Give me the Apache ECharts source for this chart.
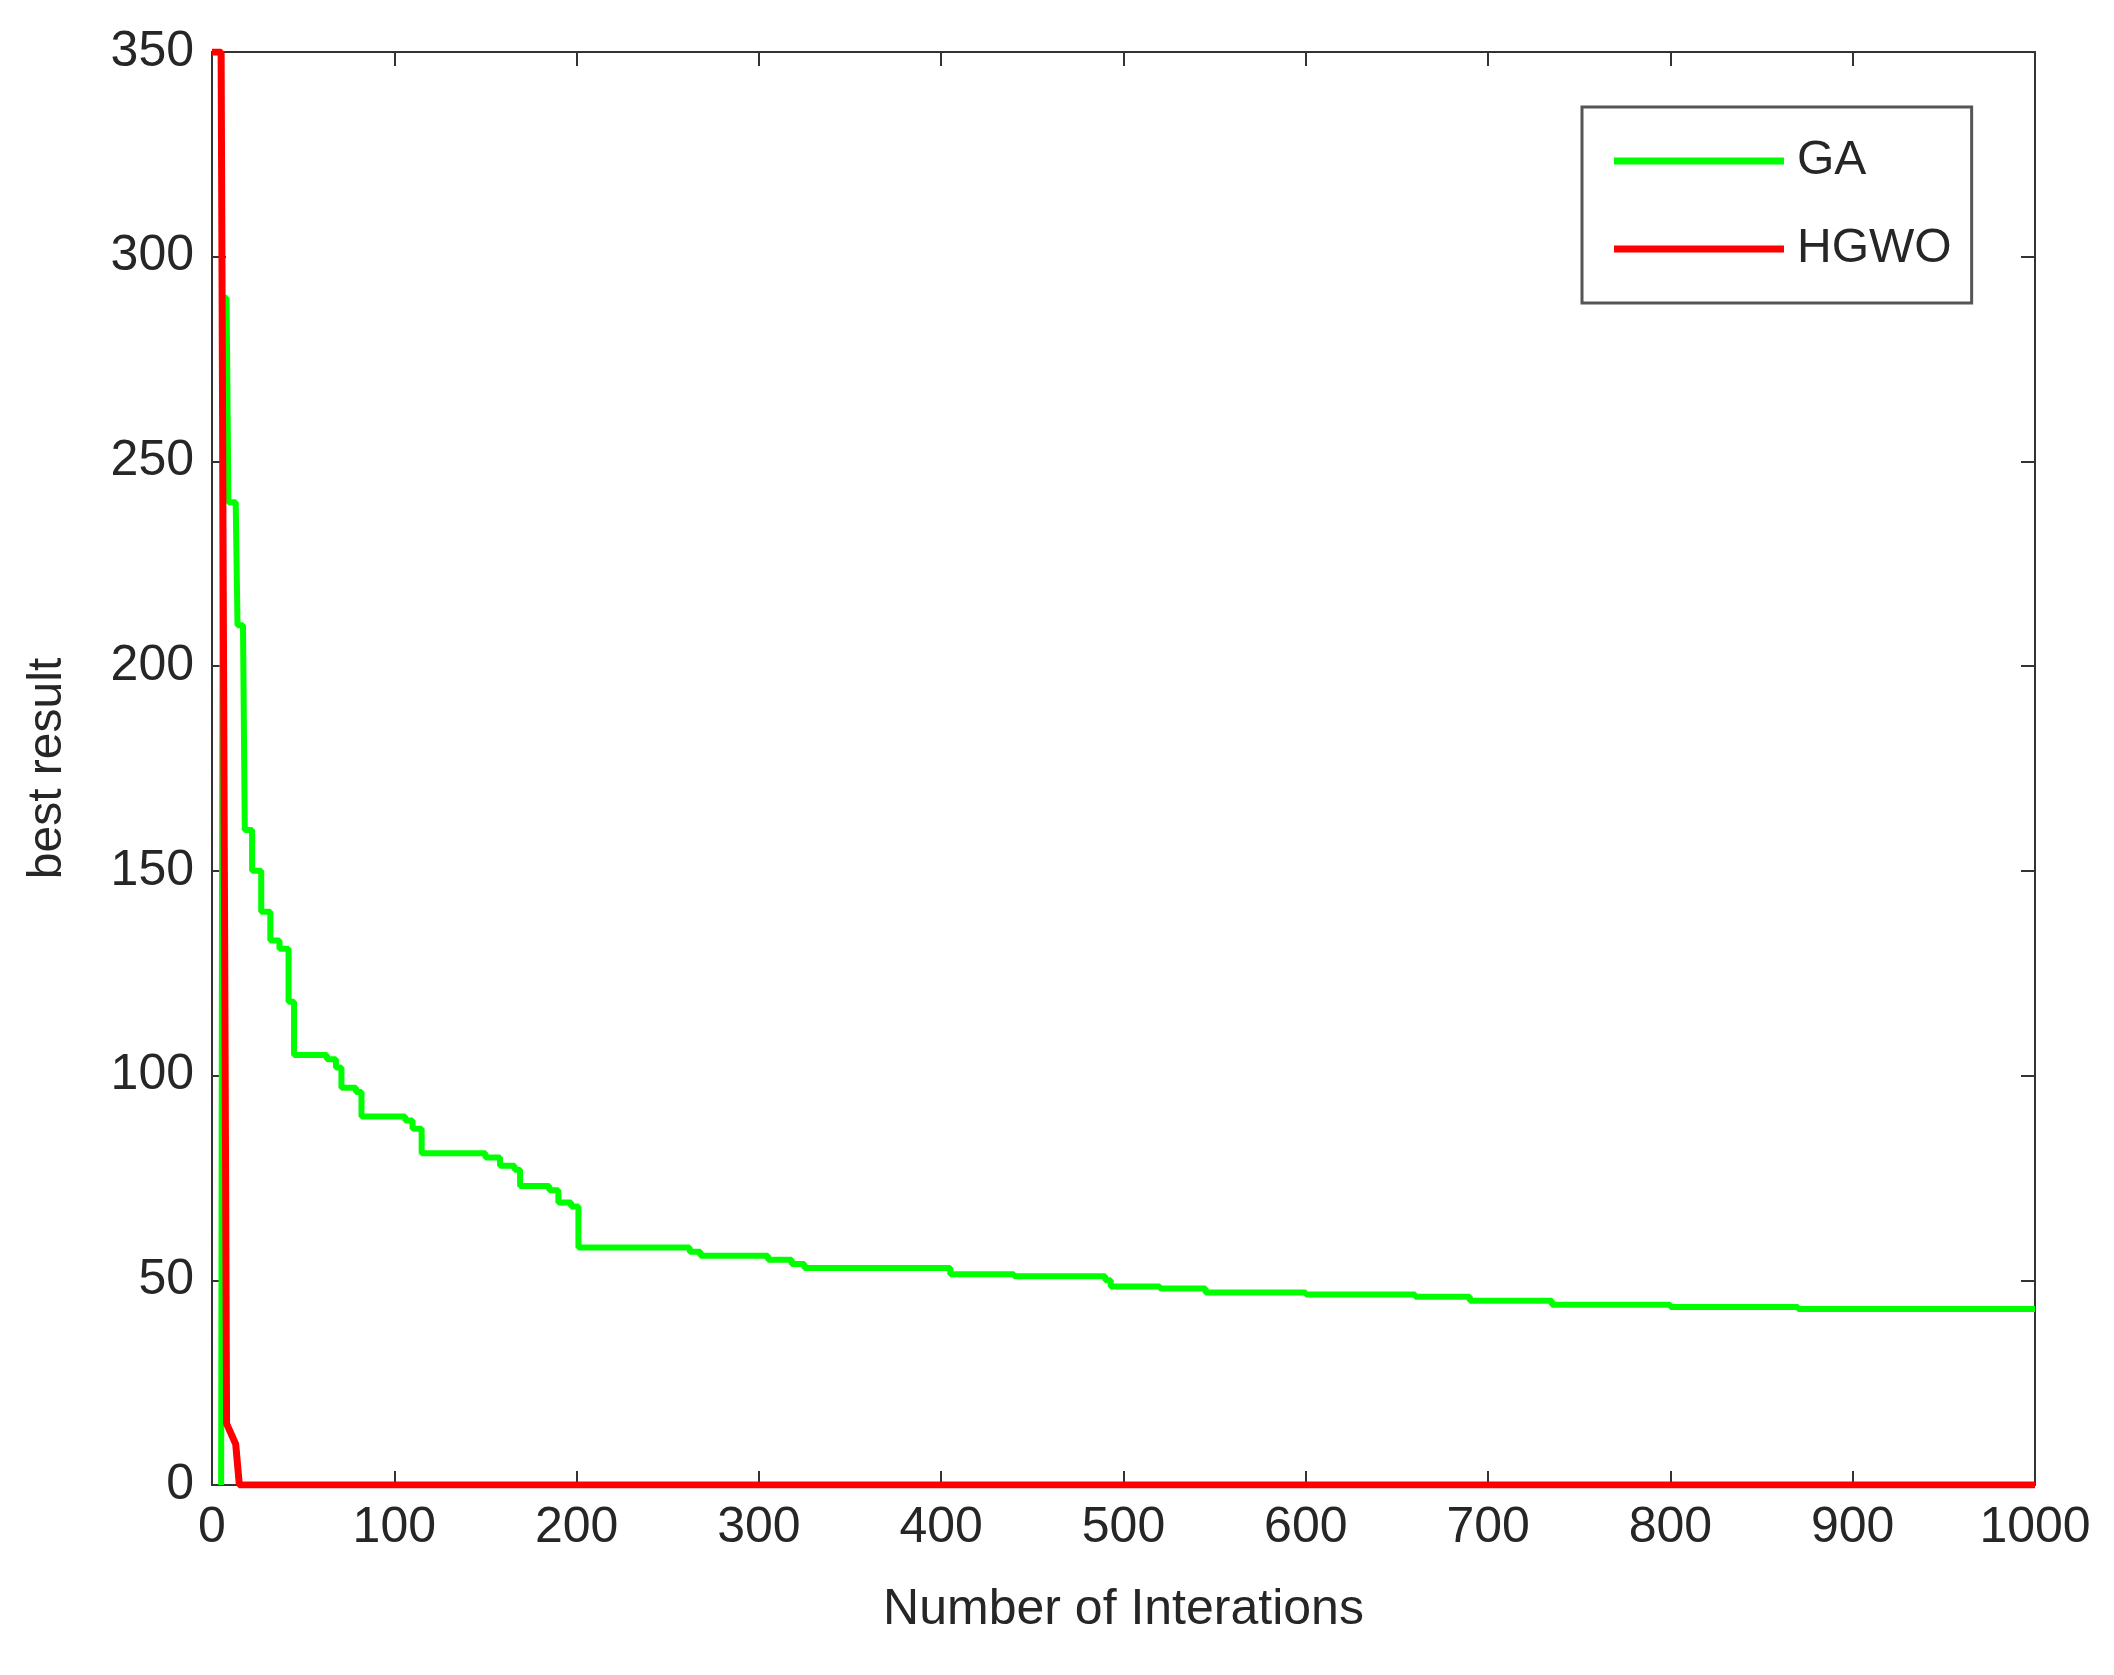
<!DOCTYPE html>
<html>
<head>
  <meta charset="utf-8">
  <script src="https://cdn.jsdelivr.net/npm/echarts@6/dist/echarts.min.js"></script>
  <style>
    html, body { margin: 0; padding: 0; background: #fff; }
    #chart { width: 2114px; height: 1675px; }
  </style>
</head>
<body>
  <div id="chart"></div>
  <script>
    // GA best result, step curve [iteration, value]
    var gaPoints = [
      [5, 0], [6, 290], [8, 290], [9, 240], [13, 240], [14, 210], [17, 210], [18, 160],
      [22, 150], [27, 140], [32, 133], [37, 131], [42, 118], [45, 105], [63, 104],
      [68, 102], [71, 97], [79, 96], [82, 90], [106, 89], [110, 87], [115, 81],
      [150, 80], [158, 78], [166, 77], [169, 73], [185, 72], [190, 69], [197, 68],
      [201, 58], [262, 57], [268, 56], [305, 55], [318, 54], [325, 53], [380, 53],
      [405, 51.5], [440, 51], [490, 50], [493, 48.5], [520, 48], [545, 47], [600, 46.5],
      [660, 46], [690, 45], [730, 45], [735, 44], [800, 43.5], [870, 43], [1000, 43]
    ];
    // HGWO best result
    var hgwoPoints = [
      [0, 350], [5, 350], [8, 15], [11, 12], [13, 10], [15, 0], [1000, 0]
    ];
    var seriesNames = ['GA', 'HGWO'];
    var seriesColors = ['#00ff00', '#ff0000'];

    var txt = '#262626';
    var font = 'Liberation Sans, Arial, sans-serif';
    var chart = echarts.init(document.getElementById('chart'));

    function xAxisCfg(pos, show) {
      return {
        type: 'value', position: pos, min: 0, max: 1000, interval: 100,
        axisLine: { show: true, onZero: false, lineStyle: { color: '#333', width: 2 } },
        axisTick: { show: true, inside: true, length: 14, lineStyle: { color: '#333', width: 2 } },
        axisLabel: { show: show, color: txt, fontSize: 50, fontFamily: font, margin: 18,
          formatter: function (v) { return String(v); } },
        splitLine: { show: false }
      };
    }
    function yAxisCfg(pos, show) {
      return {
        type: 'value', position: pos, min: 0, max: 350, interval: 50,
        axisLine: { show: true, onZero: false, lineStyle: { color: '#333', width: 2 } },
        axisTick: { show: true, inside: true, length: 14, lineStyle: { color: '#333', width: 2 } },
        axisLabel: { show: show, color: txt, fontSize: 50, fontFamily: font, margin: 18 },
        splitLine: { show: false }
      };
    }

    var xMain = xAxisCfg('bottom', true);
    xMain.name = 'Number of Interations';
    xMain.nameLocation = 'middle';
    xMain.nameGap = 100;
    xMain.nameTextStyle = { color: txt, fontSize: 50, fontFamily: font };
    var yMain = yAxisCfg('left', true);
    yMain.name = 'best result';
    yMain.nameLocation = 'middle';
    yMain.nameGap = 140;
    yMain.nameTextStyle = { color: txt, fontSize: 48, fontFamily: font };

    chart.setOption({
      animation: false,
      backgroundColor: '#fff',
      grid: { left: 212, right: 79, top: 52, bottom: 190 },
      legend: {
        orient: 'vertical', left: 1582, top: 107,
        data: seriesNames,
        icon: 'rect', itemWidth: 170, itemHeight: 7, itemGap: 40,
        padding: [30, 20, 30, 32],
        borderColor: '#555', borderWidth: 3, backgroundColor: '#fff',
        textStyle: { color: txt, fontSize: 48, fontFamily: font, padding: [0, 0, 0, 8] }
      },
      xAxis: [xMain, xAxisCfg('top', false)],
      yAxis: [yMain, yAxisCfg('right', false)],
      series: [
        {
          name: seriesNames[0], type: 'line', step: 'end', data: gaPoints,
          showSymbol: false, color: seriesColors[0],
          lineStyle: { width: 6, color: seriesColors[0] }, z: 3
        },
        {
          name: seriesNames[1], type: 'line', data: hgwoPoints,
          showSymbol: false, color: seriesColors[1],
          lineStyle: { width: 7, color: seriesColors[1] }, z: 4
        }
      ]
    });
  </script>
</body>
</html>
